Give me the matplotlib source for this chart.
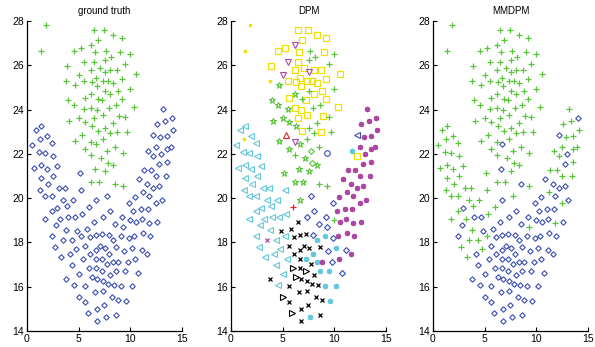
import matplotlib.pyplot as plt

# points grouped by their DPM cluster: (x, y, ground-truth label, MMDPM label)
# label g = green plus, b = blue diamond
yellow_sq = [(6.50, 27.61, 'g', 'g'), (7.43, 27.61, 'g', 'g'), (8.35, 27.37, 'g', 'g'), (9.22, 27.22, 'g', 'g'),
             (6.90, 27.16, 'g', 'g'), (5.22, 26.80, 'g', 'g'), (4.53, 26.66, 'g', 'g'), (6.60, 26.62, 'g', 'g'),
             (9.03, 26.62, 'g', 'g'), (6.50, 26.14, 'g', 'g'), (3.90, 25.98, 'g', 'g'), (7.02, 25.86, 'g', 'g'),
             (6.15, 25.80, 'g', 'g'), (7.99, 25.80, 'g', 'g'), (8.75, 25.80, 'g', 'g'), (10.50, 25.62, 'g', 'g'),
             (6.65, 25.44, 'g', 'g'), (9.17, 25.38, 'g', 'g'), (5.55, 25.29, 'g', 'g'), (7.40, 25.29, 'g', 'g'),
             (7.87, 25.30, 'g', 'g'), (6.25, 25.23, 'g', 'g'), (8.35, 25.20, 'g', 'g'), (6.80, 25.07, 'g', 'g'),
             (8.80, 24.84, 'g', 'g'), (7.99, 24.72, 'g', 'g'), (5.57, 24.51, 'g', 'g'), (7.28, 24.45, 'g', 'g'),
             (9.18, 24.48, 'g', 'g'), (6.15, 24.06, 'g', 'g'), (6.75, 23.99, 'g', 'g'), (10.32, 24.12, 'g', 'g'),
             (6.50, 23.62, 'g', 'g'), (7.33, 23.77, 'g', 'g'), (8.87, 23.73, 'g', 'g'), (8.75, 22.98, 'g', 'g'),
             (6.85, 23.02, 'g', 'g'), (12.20, 21.90, 'b', 'g')]
magenta_dn = [(6.15, 26.92, 'g', 'g'), (5.55, 26.14, 'g', 'g'), (5.00, 25.56, 'g', 'g'), (7.50, 25.68, 'g', 'g'),
              (6.15, 22.53, 'g', 'g')]
yellow_dot = [(1.85, 27.83, 'g', 'g'), (1.32, 26.66, 'g', 'g'), (3.75, 25.29, 'g', 'g'), (1.30, 22.69, 'b', 'g')]
green_star = [(4.65, 25.10, 'g', 'g'), (3.92, 24.45, 'g', 'g'), (4.55, 24.19, 'g', 'g'), (4.08, 23.49, 'g', 'g'),
              (5.50, 24.03, 'g', 'g'), (5.00, 23.61, 'g', 'g'), (5.65, 23.43, 'g', 'g'), (6.25, 23.28, 'g', 'g'),
              (6.20, 24.69, 'g', 'g'), (4.65, 22.58, 'g', 'g'), (5.65, 22.22, 'g', 'g'), (6.70, 22.44, 'g', 'b'),
              (7.12, 21.80, 'g', 'g'), (7.58, 21.23, 'g', 'g'), (6.62, 21.33, 'g', 'b'), (5.15, 21.12, 'b', 'g'),
              (6.95, 20.75, 'g', 'g'), (6.15, 20.75, 'g', 'g'), (6.72, 19.92, 'b', 'b'), (8.30, 21.48, 'g', 'g')]
green_plus = [(7.65, 26.66, 'g', 'g'), (8.15, 26.38, 'g', 'g'), (7.50, 26.23, 'g', 'g'), (9.95, 26.53, 'g', 'g'),
              (9.53, 26.07, 'g', 'g'), (6.85, 24.48, 'g', 'g'), (7.55, 24.86, 'g', 'g'), (9.92, 24.95, 'g', 'g'),
              (8.60, 24.22, 'g', 'g'), (7.95, 24.09, 'g', 'g'), (9.50, 23.65, 'g', 'g'), (7.55, 23.18, 'g', 'g'),
              (8.35, 23.40, 'g', 'g'), (8.00, 22.93, 'g', 'g'), (9.65, 22.99, 'g', 'g'), (7.40, 22.66, 'g', 'g'),
              (8.50, 22.33, 'g', 'g'), (6.20, 21.97, 'g', 'g'), (8.50, 20.63, 'g', 'b'), (9.30, 20.54, 'g', 'g'),
              (9.95, 19.00, 'b', 'b')]
green_dia = [(7.78, 22.15, 'g', 'g'), (7.88, 21.60, 'g', 'g')]
red_up = [(5.35, 22.83, 'g', 'g')]
red_plus = [(6.02, 19.58, 'b', 'g')]
blue_circ = [(9.30, 22.03, 'g', 'g')]
blue_left = [(12.20, 22.86, 'b', 'b')]
cyan_ast = [(11.70, 22.15, 'b', 'g'), (8.35, 18.12, 'b', 'b'), (9.05, 18.29, 'b', 'b'), (10.12, 17.73, 'b', 'b'),
            (7.30, 17.27, 'b', 'b'), (7.98, 17.46, 'b', 'b'), (8.35, 17.12, 'b', 'b'), (8.62, 16.69, 'b', 'b'),
            (9.48, 16.69, 'b', 'b'), (9.10, 16.04, 'b', 'b'), (10.20, 16.04, 'b', 'b'), (9.55, 15.34, 'b', 'b'),
            (7.60, 14.63, 'b', 'b')]
cyan_left = [(0.85, 23.07, 'b', 'g'), (1.40, 23.28, 'b', 'g'), (0.50, 22.41, 'b', 'g'), (1.95, 22.80, 'b', 'g'),
             (1.12, 22.08, 'b', 'g'), (1.78, 22.05, 'b', 'g'), (2.40, 22.50, 'b', 'g'), (2.52, 21.90, 'b', 'g'),
             (0.68, 21.38, 'b', 'g'), (1.33, 21.50, 'b', 'g'), (1.90, 21.30, 'b', 'g'), (2.95, 21.46, 'b', 'g'),
             (1.33, 20.93, 'b', 'g'), (2.47, 21.01, 'b', 'g'), (2.00, 20.63, 'b', 'g'), (1.25, 20.36, 'b', 'g'),
             (1.75, 20.09, 'b', 'g'), (2.38, 20.09, 'b', 'g'), (3.05, 20.48, 'b', 'g'), (3.70, 20.48, 'b', 'g'),
             (5.21, 20.36, 'b', 'g'), (3.50, 19.91, 'b', 'g'), (4.47, 19.91, 'b', 'g'), (2.42, 19.43, 'b', 'g'),
             (2.93, 19.54, 'b', 'b'), (3.90, 19.64, 'b', 'g'), (1.72, 19.07, 'b', 'g'), (3.20, 19.07, 'b', 'g'),
             (4.00, 19.15, 'b', 'b'), (4.62, 19.17, 'b', 'b'), (5.30, 19.30, 'b', 'g'), (2.82, 18.77, 'b', 'b'),
             (3.75, 18.57, 'b', 'g'), (2.38, 18.30, 'b', 'b'), (4.32, 18.10, 'b', 'g'), (5.20, 18.30, 'b', 'g'),
             (2.70, 17.80, 'b', 'g'), (4.76, 17.70, 'b', 'g'), (4.20, 17.47, 'b', 'b'), (3.30, 17.34, 'b', 'g'),
             (5.45, 17.25, 'b', 'b'), (4.40, 16.99, 'b', 'b'), (5.05, 16.57, 'b', 'b'), (4.53, 16.07, 'b', 'b')]
magenta_x = [(3.44, 18.12, 'b', 'g')]
black_x = [(6.50, 18.94, 'b', 'b'), (4.85, 18.50, 'b', 'b'), (5.77, 18.59, 'b', 'b'), (6.12, 18.23, 'b', 'b'),
           (6.69, 18.32, 'b', 'b'), (7.27, 18.38, 'b', 'b'), (5.66, 17.83, 'b', 'b'), (6.63, 17.65, 'b', 'b'),
           (7.11, 17.83, 'b', 'b'), (7.50, 17.73, 'b', 'b'), (8.63, 17.80, 'b', 'b'), (6.12, 17.47, 'b', 'b'),
           (6.69, 17.26, 'b', 'b'), (7.72, 17.04, 'b', 'b'), (6.69, 16.84, 'b', 'b'), (7.35, 16.24, 'b', 'b'),
           (6.76, 16.35, 'b', 'b'), (8.01, 16.53, 'b', 'b'), (7.85, 16.12, 'b', 'b'), (8.43, 16.06, 'b', 'b'),
           (3.77, 16.36, 'b', 'b'), (5.60, 16.03, 'b', 'b'), (6.60, 15.78, 'b', 'b'), (7.37, 15.82, 'b', 'b'),
           (8.18, 15.55, 'b', 'b'), (8.85, 15.40, 'b', 'b'), (5.63, 15.32, 'b', 'b'), (7.43, 15.17, 'b', 'b'),
           (6.82, 14.98, 'b', 'b'), (8.59, 14.71, 'b', 'b'), (6.82, 14.47, 'b', 'b')]
black_right = [(6.00, 16.86, 'b', 'b'), (6.31, 16.42, 'b', 'b'), (7.30, 16.69, 'b', 'b'), (5.02, 15.52, 'b', 'b'),
               (5.86, 14.83, 'b', 'b')]
blue_dia = [(7.72, 20.09, 'b', 'g'), (9.85, 19.79, 'b', 'b'), (8.00, 19.40, 'b', 'b'), (7.34, 19.16, 'b', 'b'),
            (9.15, 19.16, 'b', 'b'), (8.50, 18.83, 'b', 'b'), (9.30, 18.71, 'b', 'g'), (7.89, 18.35, 'b', 'b'),
            (9.88, 18.20, 'b', 'b'), (9.37, 17.62, 'b', 'b'), (11.10, 17.68, 'b', 'b'), (9.79, 17.11, 'b', 'b'),
            (10.75, 16.62, 'b', 'b')]
magenta_ast = [(13.20, 24.02, 'b', 'g'), (13.36, 23.49, 'b', 'g'), (14.05, 23.64, 'b', 'b'), (12.61, 23.37, 'b', 'g'),
               (14.15, 23.07, 'b', 'g'), (13.50, 22.81, 'b', 'g'), (12.90, 22.75, 'b', 'g'), (12.45, 22.30, 'b', 'g'),
               (13.55, 22.21, 'b', 'g'), (13.95, 22.30, 'b', 'g'), (12.95, 22.00, 'b', 'b'), (12.75, 21.53, 'b', 'b'),
               (13.55, 21.61, 'b', 'g'), (11.30, 21.29, 'b', 'g'), (11.96, 21.29, 'b', 'g'), (12.45, 20.99, 'b', 'g'),
               (13.42, 21.00, 'b', 'g'), (10.80, 20.87, 'b', 'b'), (11.63, 20.65, 'b', 'b'), (12.81, 20.57, 'b', 'b'),
               (12.20, 20.48, 'b', 'b'), (11.18, 20.26, 'b', 'g'), (11.85, 20.09, 'b', 'b'), (10.42, 20.03, 'b', 'b'),
               (13.10, 19.92, 'b', 'b'), (12.45, 19.77, 'b', 'g'), (10.22, 19.43, 'b', 'b'), (11.00, 19.49, 'b', 'b'),
               (11.75, 19.49, 'b', 'b'), (10.50, 18.92, 'b', 'b'), (11.10, 19.04, 'b', 'b'), (11.82, 18.88, 'b', 'g'),
               (12.55, 18.92, 'b', 'b'), (11.20, 18.43, 'b', 'b'), (11.92, 18.27, 'b', 'b'), (10.35, 18.30, 'b', 'b'),
               (10.45, 17.25, 'b', 'b'), (11.65, 17.48, 'b', 'b'), (8.85, 17.13, 'b', 'b')]

titles = ['ground truth', 'DPM', 'MMDPM']

GREEN = '#5ac43c'
BLUE = '#3a4cb4'
CYAN = '#62c8da'
MAGENTA = '#ac48a4'
YELLOW = '#f0e000'
RED = '#e62226'

# marker style of each DPM cluster
dpm_groups = [
    (yellow_sq, dict(marker='s', ms=4.9, mfc='none', mec=YELLOW, mew=0.9)),
    (magenta_dn, dict(marker='v', ms=4.2, mfc='none', mec=MAGENTA, mew=0.8)),
    (yellow_dot, dict(marker='.', ms=3.2, mfc=YELLOW, mec=YELLOW)),
    (green_star, dict(marker='*', ms=4.8, mfc='none', mec=GREEN, mew=0.8)),
    (green_plus, dict(marker='+', ms=4.0, mec=GREEN, mew=0.9)),
    (green_dia, dict(marker='D', ms=3.0, mfc='none', mec=GREEN, mew=0.8)),
    (red_up, dict(marker='^', ms=4.2, mfc='none', mec=RED, mew=0.8)),
    (red_plus, dict(marker='+', ms=4.0, mec=RED, mew=0.9)),
    (blue_circ, dict(marker='o', ms=4.0, mfc='none', mec=BLUE, mew=0.8)),
    (blue_left, dict(marker='<', ms=4.2, mfc='none', mec=BLUE, mew=0.8)),
    (cyan_ast, dict(marker=(8, 2, 0), ms=3.8, mec=CYAN, mew=0.9)),
    (cyan_left, dict(marker='<', ms=4.2, mfc='none', mec=CYAN, mew=0.8)),
    (magenta_x, dict(marker='x', ms=2.8, mec=MAGENTA, mew=0.9)),
    (black_x, dict(marker='x', ms=2.6, mec='black', mew=0.9)),
    (black_right, dict(marker='>', ms=4.2, mfc='none', mec='black', mew=0.8)),
    (blue_dia, dict(marker='D', ms=3.0, mfc='none', mec=BLUE, mew=0.8)),
    (magenta_ast, dict(marker=(8, 2, 0), ms=3.8, mec=MAGENTA, mew=0.9)),
]
two_styles = {
    'g': dict(marker='+', ms=4.0, mec=GREEN, mew=0.9),
    'b': dict(marker='D', ms=2.8, mfc='none', mec=BLUE, mew=0.8),
}

all_pts = [p for grp, _ in dpm_groups for p in grp]

plt.rcParams['font.family'] = ['Liberation Sans', 'DejaVu Sans']
fig = plt.figure(figsize=(5.95, 3.47), dpi=100)
lefts = [27, 231, 433]
axes = [fig.add_axes([l / 595, 16 / 347, 155 / 595, 310 / 347]) for l in lefts]

for ax, title in zip(axes, titles):
    ax.set_xlim(0, 15)
    ax.set_ylim(14, 28)
    ax.set_xticks([0, 5, 10, 15])
    ax.set_yticks(range(14, 29, 2))
    ax.spines['top'].set_visible(False)
    ax.spines['right'].set_visible(False)
    ax.tick_params(direction='in', length=3, width=0.8, labelsize=7.5, pad=2)
    ax.set_title(title, fontsize=7, pad=5)
    for s in ['left', 'bottom']:
        ax.spines[s].set_linewidth(0.9)

# ground truth and MMDPM panels
for ax, col in [(axes[0], 2), (axes[2], 3)]:
    for lab in ['b', 'g']:
        px = [p[0] for p in all_pts if p[col] == lab]
        py = [p[1] for p in all_pts if p[col] == lab]
        ax.plot(px, py, ls='none', clip_on=False, **two_styles[lab])

# DPM panel
for grp, st in dpm_groups:
    axes[1].plot([p[0] for p in grp], [p[1] for p in grp], ls='none', clip_on=False, **st)

fig.savefig('out.png', dpi=100)
